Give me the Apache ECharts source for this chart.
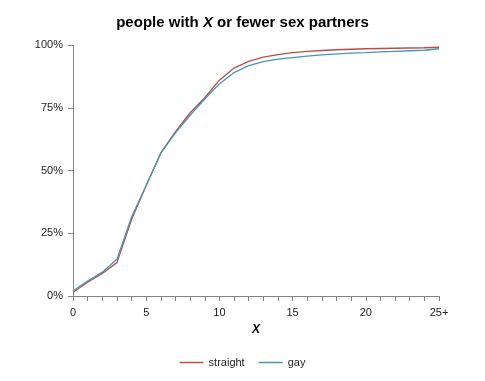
<!DOCTYPE html>
<html><head><meta charset="utf-8">
<script src="https://cdn.jsdelivr.net/npm/echarts@6/dist/echarts.min.js"></script>
<style>html,body{margin:0;padding:0;background:#fff}#c{width:485px;height:381px}</style>
</head><body><div id="c"></div>
<script>
const categories = ['0','1','2','3','4','5','6','7','8','9','10','11','12','13','14','15','16','17','18','19','20','21','22','23','24','25+'];
const straight = [1.5, 5.5, 9, 13.3, 30.5, 44, 57, 65.5, 73, 79, 86, 90.8, 93.5, 95.2, 96.2, 97, 97.5, 97.8, 98.1, 98.3, 98.5, 98.6, 98.7, 98.8, 98.9, 99.1];
const gay = [2, 6, 9.5, 14.6, 31.5, 44, 57, 65, 72, 78.5, 84.5, 89, 91.8, 93.4, 94.4, 95, 95.6, 96.1, 96.5, 96.8, 97, 97.3, 97.5, 97.7, 97.9, 98.5];
const yTicks = [0, 25, 50, 75, 100];

const font = 'Liberation Sans';
const chart = echarts.init(document.getElementById('c'), null, {renderer: 'canvas'});
chart.setOption({
  animation: false,
  backgroundColor: '#fff',
  title: {
    text: '{a|people with }{b|X}{a| or fewer sex partners}',
    left: 'center', top: 10,
    textStyle: {
      rich: {
        a: {fontFamily: font, fontWeight: 'bold', fontSize: 15, color: '#000'},
        b: {fontFamily: font, fontWeight: 'bold', fontStyle: 'italic', fontSize: 15, color: '#000'}
      }
    }
  },
  legend: {
    bottom: 8, left: 'center',
    icon: 'rect', itemWidth: 24, itemHeight: 1.5, itemGap: 14,
    textStyle: {fontFamily: font, fontSize: 11, color: '#222'},
    data: ['straight', 'gay']
  },
  grid: {left: 73, right: 46, top: 45, bottom: 85, containLabel: false},
  xAxis: {
    type: 'category', boundaryGap: false, data: categories,
    name: 'X', nameLocation: 'middle', nameGap: 28,
    nameTextStyle: {fontFamily: font, fontWeight: 'bold', fontStyle: 'italic', fontSize: 12, color: '#000'},
    axisLine: {lineStyle: {color: '#868686', width: 1}},
    axisTick: {interval: 0, length: 5, lineStyle: {color: '#868686'}},
    axisLabel: {interval: 4, fontFamily: font, fontSize: 11, color: '#222', margin: 11}
  },
  yAxis: {
    type: 'value', min: yTicks[0], max: yTicks[yTicks.length - 1], interval: 25,
    axisLine: {show: true, lineStyle: {color: '#868686', width: 1}},
    axisTick: {show: true, length: 5, lineStyle: {color: '#868686'}},
    splitLine: {show: false},
    axisLabel: {fontFamily: font, fontSize: 11, color: '#222', margin: 10, formatter: v => v + '%'}
  },
  series: [
    {name: 'straight', type: 'line', data: straight, symbol: 'none', smooth: false,
     lineStyle: {color: '#be4b48', width: 1.3}, itemStyle: {color: '#be4b48'}},
    {name: 'gay', type: 'line', data: gay, symbol: 'none', smooth: false,
     lineStyle: {color: '#3f9ab3', width: 1.3}, itemStyle: {color: '#3f9ab3'}}
  ]
});
</script></body></html>
